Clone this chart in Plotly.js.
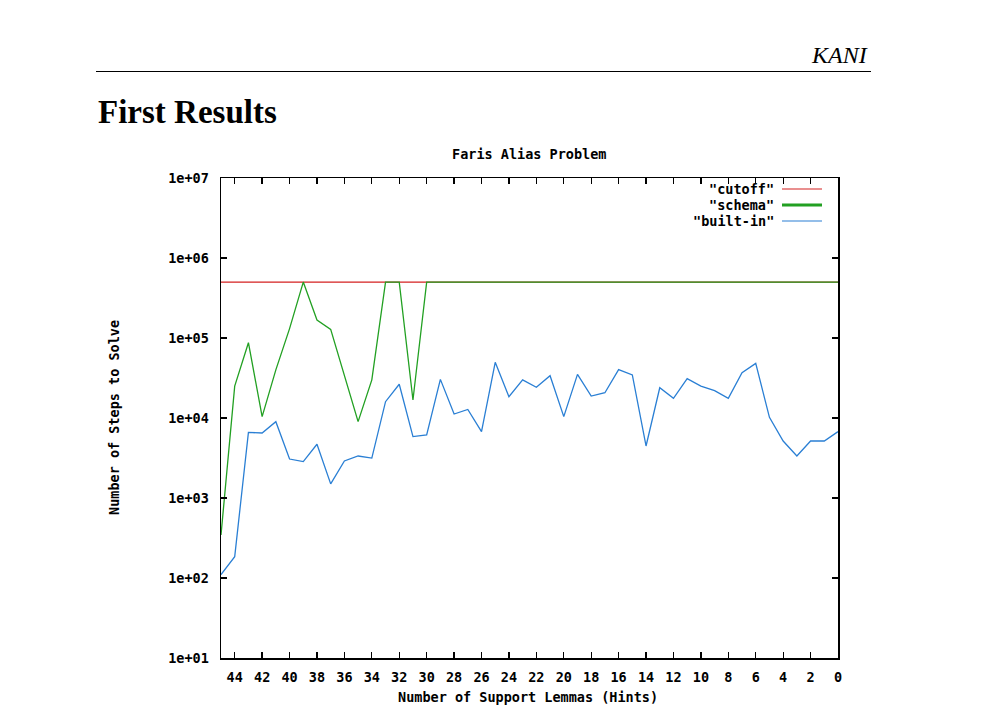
<!DOCTYPE html>
<html>
<head>
<meta charset="utf-8">
<script src="https://cdn.plot.ly/plotly-3.0.1.min.js"></script>
<style>
  html, body { margin: 0; padding: 0; background: #ffffff; }
  #chart { width: 1006px; height: 711px; }
</style>
</head>
<body>
<div id="chart"></div>
<script>
// ---------- data ----------
const hints = [45,44,43,42,41,40,39,38,37,36,35,34,33,32,31,30,29,28,27,26,25,24,23,22,21,20,19,18,17,16,15,14,13,12,11,10,9,8,7,6,5,4,3,2,1,0];
const builtIn = [110,185,6600,6500,9000,3070,2850,4700,1500,2900,3350,3150,16000,26400,5850,6150,30400,11200,12800,6750,49700,18500,30000,24200,33800,10400,35100,18800,20700,40200,34500,4470,23900,17600,31000,25100,22000,17600,36900,48200,10200,5160,3350,5160,5160,6750];
const schema = [345,25000,87400,10400,40000,131000,500000,168000,128000,34000,9000,30000,500000,500000,16800,
  500000,500000,500000,500000,500000,500000,500000,500000,500000,500000,500000,500000,500000,500000,500000,500000,
  500000,500000,500000,500000,500000,500000,500000,500000,500000,500000,500000,500000,500000,500000,500000];
const cutoffValue = 500000;
const cutoffX = [45, 0];
const seriesNames = ['"cutoff"', '"schema"', '"built-in"'];
const yTickVals = [10,100,1000,10000,100000,1000000,10000000];
const yTickText = ["1e+01","1e+02","1e+03","1e+04","1e+05","1e+06","1e+07"];
const chartTitle = "Faris Alias Problem";
const xTitle = "Number of Support Lemmas (Hints)";
const yTitle = "Number of Steps to Solve";
const slideHeader = "KANI";
const slideTitle = "First Results";

// ---------- layout helpers ----------
const W = 1006, H = 711;
const PL = 221, PR = 838, PT = 178, PB = 658;
const fx = px => (px - PL) / (PR - PL);
const fy = py => (PB - py) / (PB - PT);
const mono = { family: "DejaVu Sans Mono, monospace", size: 13.5, color: "#000", weight: "bold" };
const colors = ["#d42020", "#22a022", "#2a7fd4"];

const traces = [
  { x: cutoffX, y: cutoffX.map(() => cutoffValue), mode: "lines", name: seriesNames[0],
    line: { color: colors[0], width: 1.3 }, hoverinfo: "skip" },
  { x: hints, y: schema, mode: "lines", name: seriesNames[1],
    line: { color: colors[1], width: 1.3 }, hoverinfo: "skip" },
  { x: hints, y: builtIn, mode: "lines", name: seriesNames[2],
    line: { color: colors[2], width: 1.3 }, hoverinfo: "skip" }
];

const ann = (text, px, py, extra) => Object.assign({
  text: text, xref: "paper", yref: "paper", x: fx(px), y: fy(py),
  showarrow: false, font: mono, xanchor: "center", yanchor: "middle"
}, extra || {});

const legendY = [189, 205, 221];
const annotations = [
  ann(slideHeader, 870, 55, { xanchor: "right", font: { family: "Liberation Serif, serif", size: 24, color: "#000", style: "italic" } }),
  ann(slideTitle, 96, 112, { xanchor: "left", font: { family: "Liberation Serif, serif", size: 33, color: "#000", weight: "bold" } }),
  ann(chartTitle, 529, 154),
  ann(xTitle, 528, 697),
  ann(yTitle, 114, 418, { textangle: -90 })
];
seriesNames.forEach((n, i) => annotations.push(ann(n, 776, legendY[i], { xanchor: "right" })));

const shapes = [
  { type: "line", xref: "paper", yref: "paper", x0: fx(96), x1: fx(871), y0: fy(71.5), y1: fy(71.5),
    line: { color: "#000", width: 1 } }
];
seriesNames.forEach((n, i) => shapes.push({
  type: "line", xref: "paper", yref: "paper", x0: fx(782), x1: fx(822), y0: fy(legendY[i]), y1: fy(legendY[i]),
  line: { color: colors[i], width: i === 1 ? 3 : 1.2 }
}));

const layout = {
  width: W, height: H,
  margin: { l: PL, r: W - PR, t: PT, b: H - PB, pad: 0 },
  paper_bgcolor: "#fff", plot_bgcolor: "#fff",
  showlegend: false,
  xaxis: {
    range: [45, 0], tick0: 0, dtick: 2, ticks: "inside", ticklen: 6, tickwidth: 1.3, tickcolor: "#000",
    showline: true, linecolor: "#000", linewidth: 1.5, mirror: "ticks", showgrid: false, zeroline: false,
    tickfont: mono, ticklabelstandoff: 6
  },
  yaxis: {
    type: "log", range: [1, 7], tickvals: yTickVals, ticktext: yTickText,
    ticks: "inside", ticklen: 6, tickwidth: 1.3, tickcolor: "#000",
    showline: true, linecolor: "#000", linewidth: 1.5, mirror: "ticks", showgrid: false, zeroline: false,
    tickfont: mono, ticklabelstandoff: 8
  },
  annotations: annotations,
  shapes: shapes
};

Plotly.newPlot("chart", traces, layout, { displayModeBar: false, staticPlot: true });
</script>
</body>
</html>
